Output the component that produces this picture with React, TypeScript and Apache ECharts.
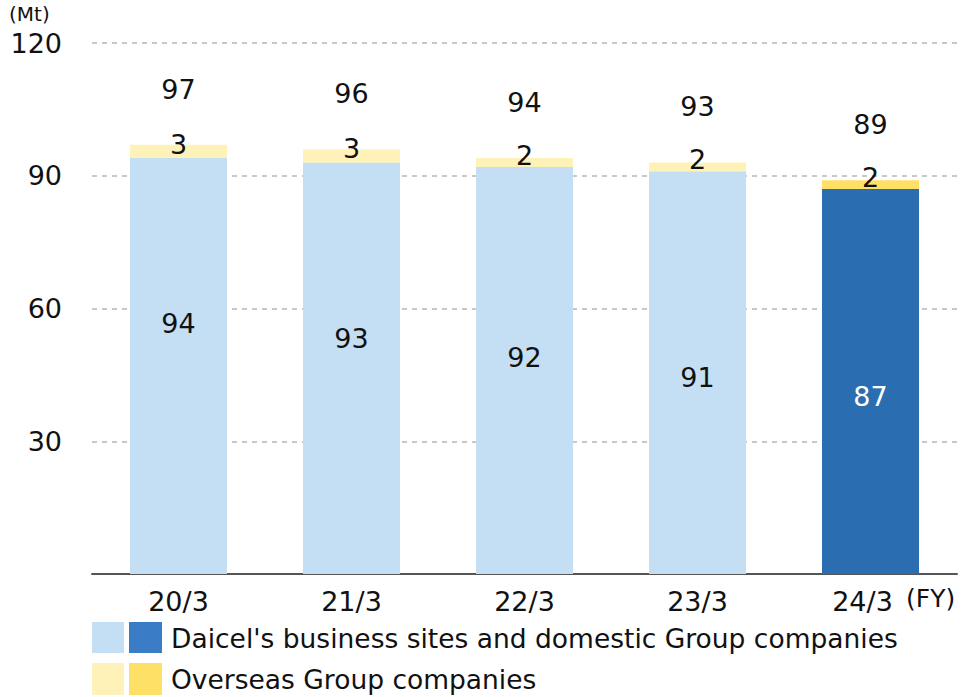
import React, { useEffect, useRef } from "react";
import * as echarts from "echarts";

const categories = ["20/3", "21/3", "22/3", "23/3", "24/3"];
const domestic = [94, 93, 92, 91, 87];
const overseas = [3, 3, 2, 2, 2];
const totals = [97, 96, 94, 93, 89];
const yTicks = [0, 30, 60, 90, 120];
const legendLabels = [
  "Daicel's business sites and domestic Group companies",
  "Overseas Group companies",
];

const FONT = "'DejaVu Sans', 'Noto Sans', sans-serif";
const FS = 27;
const LIGHT_BLUE = "#C4DFF3";
const DARK_BLUE = "#2A6DB0";
const LIGHT_YELLOW = "#FFF2B8";
const DARK_YELLOW = "#FFE066";
const domesticLabelOffsets = [-43, -30, -13, 5, 15];

export default function App() {
  const ref = useRef<HTMLDivElement>(null);
  useEffect(() => {
    if (!ref.current) return;
    const chart = echarts.init(ref.current, null, { renderer: "svg" });
    const last = categories.length - 1;
    chart.setOption({
      animation: false,
      textStyle: { fontFamily: FONT },
      grid: { left: 92, right: 5, top: 43, bottom: 123 },
      xAxis: {
        type: "category",
        data: categories.map((c, i) =>
          i === last ? { value: c, textStyle: { padding: [0, 16, 0, 0] } } : c
        ),
        axisLine: { lineStyle: { color: "#555", width: 2 } },
        axisTick: { show: false },
        axisLabel: { color: "#111", fontSize: FS, margin: 14, fontFamily: FONT },
      },
      yAxis: {
        type: "value",
        min: yTicks[0],
        max: yTicks[yTicks.length - 1],
        interval: 30,
        axisLine: { show: false },
        axisTick: { show: false },
        axisLabel: {
          color: "#111",
          fontSize: FS,
          margin: 30,
          fontFamily: FONT,
          formatter: (v: number) => (v === 0 ? "" : String(v)),
        },
        splitLine: {
          lineStyle: { color: "#c8c8c8", width: 2, type: [5, 5] },
        },
      },
      series: [
        {
          type: "bar",
          stack: "t",
          barWidth: 97,
          data: domestic.map((v, i) => ({
            value: v,
            itemStyle: { color: i === last ? DARK_BLUE : LIGHT_BLUE },
            label: {
              color: i === last ? "#fff" : "#111",
              offset: [0, domesticLabelOffsets[i]],
            },
          })),
          label: { show: true, position: "inside", fontSize: FS, fontFamily: FONT },
        },
        {
          type: "bar",
          stack: "t",
          barWidth: 97,
          data: overseas.map((v, i) => ({
            value: v,
            itemStyle: { color: i === last ? DARK_YELLOW : LIGHT_YELLOW },
          })),
          label: {
            show: true,
            position: "inside",
            offset: [0, -7],
            color: "#111",
            fontSize: FS,
            fontFamily: FONT,
          },
        },
        {
          type: "bar",
          stack: "t",
          barWidth: 97,
          data: totals.map(() => 0),
          itemStyle: { color: "transparent" },
          label: {
            show: true,
            position: "top",
            distance: 42,
            color: "#111",
            fontSize: FS,
            fontFamily: FONT,
            formatter: (p: any) => String(totals[p.dataIndex]),
          },
        },
      ],
      graphic: [
        {
          type: "text",
          left: 9,
          top: 4,
          style: { text: "(Mt)", fontSize: 20, fill: "#111", fontFamily: FONT },
        },
        {
          type: "text",
          left: 906,
          top: 586,
          style: { text: "(FY)", fontSize: 25, fill: "#111", fontFamily: FONT },
        },
        { type: "rect", shape: { x: 92, y: 622, width: 32, height: 31 }, style: { fill: LIGHT_BLUE } },
        { type: "rect", shape: { x: 129, y: 622, width: 33, height: 31 }, style: { fill: "#3A7CC6" } },
        {
          type: "text",
          x: 171,
          y: 638,
          style: {
            text: legendLabels[0],
            fontSize: 26.5,
            fill: "#111",
            fontFamily: FONT,
            verticalAlign: "middle",
          },
        },
        { type: "rect", shape: { x: 92, y: 663, width: 32, height: 32 }, style: { fill: LIGHT_YELLOW } },
        { type: "rect", shape: { x: 129, y: 663, width: 33, height: 32 }, style: { fill: DARK_YELLOW } },
        {
          type: "text",
          x: 171,
          y: 679,
          style: {
            text: legendLabels[1],
            fontSize: 26.5,
            fill: "#111",
            fontFamily: FONT,
            verticalAlign: "middle",
          },
        },
      ],
    });
    return () => chart.dispose();
  }, []);
  return <div ref={ref} style={{ width: 962, height: 697, position: "absolute", left: 0, top: 0 }} />;
}
